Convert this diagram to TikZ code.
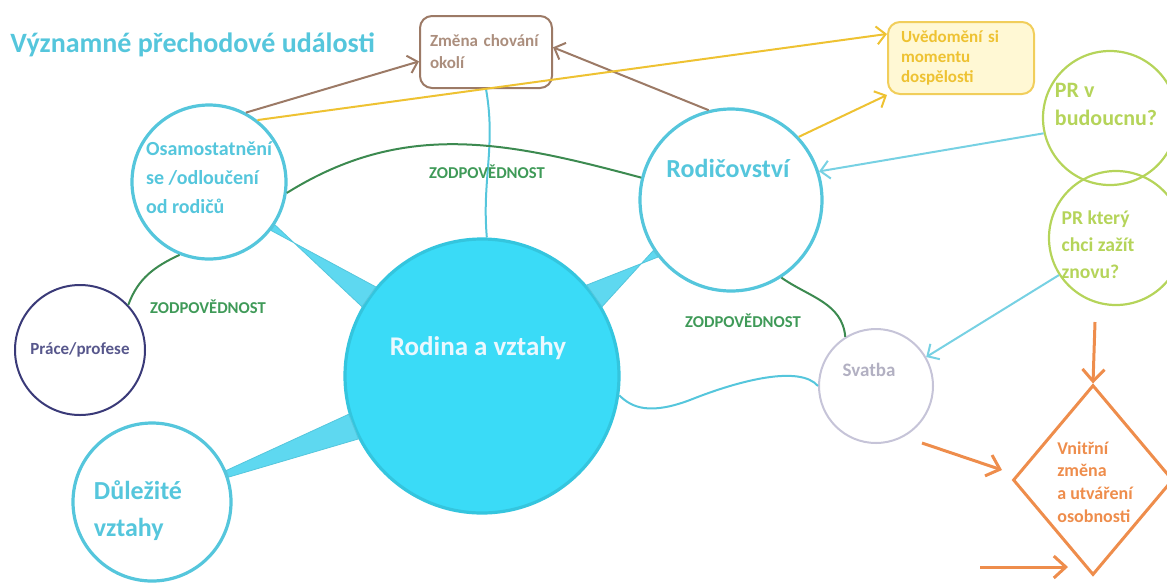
\documentclass[tikz,border=0pt]{standalone}
\usepackage{fontspec}
\setmainfont{Carlito}
\usetikzlibrary{arrows.meta, shapes.geometric, positioning}

\definecolor{tyrkys}{HTML}{55C6DC}
\definecolor{plna}{HTML}{3ADBF7}
\definecolor{klin}{HTML}{5ED8F0}
\definecolor{hneda}{HTML}{9C7A66}
\definecolor{zluta}{HTML}{EEC232}
\definecolor{zlutapole}{HTML}{FFF8D4}
\definecolor{zelena}{HTML}{3C8A50}
\definecolor{zelenytext}{HTML}{3F9A58}
\definecolor{limet}{HTML}{B5D45A}
\definecolor{modra}{HTML}{3A3A78}
\definecolor{seda}{HTML}{C6C4D8}
\definecolor{oranz}{HTML}{EE8D4C}

\tikzset{
  udalost/.style={circle, draw=tyrkys, line width=1.6pt, inner sep=0pt},
  popis/.style={font=\bfseries, align=left, inner sep=0pt, text=tyrkys},
  pr/.style={circle, draw=limet, line width=1.1pt, inner sep=0pt},
  zodp/.style={font=\bfseries\fontsize{8.3}{10}\selectfont, text=zelenytext, inner sep=0pt},
  sipka/.style={->, >={Straight Barb[length=4.5pt, width=9pt]}, line width=1pt},
}

\begin{document}
\begin{tikzpicture}[x=0.5pt, y=-0.5pt]
    \useasboundingbox (0,0) rectangle (1167,585);

    \node[popis, anchor=west, font=\bfseries\fontsize{14}{16}\selectfont] (nadpis) at (10,45) {Významné přechodové události};

    % krabicky nahore
    \node[draw=hneda, line width=1pt, rounded corners=6pt, minimum width=66pt, minimum height=36pt,
          text=hneda!85, font=\bfseries\fontsize{8.5}{11}\selectfont, align=left, text width=56pt] (zmena) at (486,52) {Změna chování\\okolí};
    \node[draw=zluta!80, fill=zlutapole, line width=1pt, rounded corners=6pt, minimum width=73pt, minimum height=36pt,
          text=zluta, font=\bfseries\fontsize{8.5}{10}\selectfont, align=left, text width=60pt] (uvedomeni) at (961,58) {Uvědomění si\\momentu\\dospělosti};

    % kruhy
    \node[udalost, minimum size=137pt, fill=plna, draw=plna!90!black] (rodina) at (482,376) {};
    \node[popis, text=white!92!cyan, font=\bfseries\fontsize{13.5}{15}\selectfont] at (478,348) {Rodina a vztahy};

    \node[udalost, minimum size=77pt] (osamost) at (209,182) {};
    \node[popis, font=\bfseries\fontsize{10}{14.5}\selectfont] at (209,178) {Osamostatnění\\se /odloučení\\od rodičů};

    \node[udalost, minimum size=91pt] (rodicovstvi) at (731,200) {};
    \node[popis, font=\bfseries\fontsize{13}{15}\selectfont] at (728,168) {Rodičovství};

    \node[udalost, minimum size=79pt] (dulezite) at (152,502) {};
    \node[popis, font=\bfseries\fontsize{13}{18.5}\selectfont] at (138,511) {Důležité\\vztahy};

    \node[circle, draw=modra, line width=1pt, minimum size=65pt, inner sep=0pt,
          text=modra!85, font=\bfseries\fontsize{8.5}{10}\selectfont] (prace) at (80,350) {Práce/profese};

    \node[circle, draw=seda, line width=1pt, minimum size=57pt, inner sep=0pt] (svatba) at (876,386) {};
    \node[popis, text=seda!90!black, font=\bfseries\fontsize{9.5}{11}\selectfont] at (869,370) {Svatba};

    \node[pr, minimum size=67pt] (budoucnu) at (1110,118) {};
    \node[popis, text=limet, font=\bfseries\fontsize{11}{14}\selectfont] at (1106,104) {PR v\\budoucnu?};

    \node[pr, minimum size=67pt] (znovu) at (1116,238) {};
    \node[popis, text=limet, font=\bfseries\fontsize{9.8}{13.5}\selectfont] at (1098,245) {PR který\\chci zažít\\znovu?};

    \node[diamond, draw=oranz, line width=1.5pt, minimum width=80pt, minimum height=95pt, inner sep=0pt] (vnitrni) at (1093,480) {};
    \node[popis, text=oranz, font=\bfseries\fontsize{9}{11.4}\selectfont] at (1095,482) {Vnitřní\\změna\\a utváření\\osobnosti};

    % kliny k velkemu kruhu
    \fill[klin, draw=tyrkys, line width=0.4pt] (osamost.-33) -- (rodina.150) -- (rodina.140) -- (osamost.-38) -- cycle;
    \fill[klin, draw=tyrkys, line width=0.4pt] (rodicovstvi.-142) -- (rodina.41) -- (rodina.30) -- (rodicovstvi.-147) -- cycle;
    \fill[klin, draw=tyrkys, line width=0.4pt] (dulezite.18) -- (rodina.207) -- (rodina.196) -- (dulezite.23) -- cycle;

    % spojnice
    \draw[tyrkys, line width=1pt] (rodina.88) to[out=95, in=-80] (zmena.south);
    \draw[tyrkys, line width=1pt] (svatba.west) .. controls (800,365) and (740,380) .. (690,400)
        .. controls (650,415) and (632,408) .. (rodina.-8);

    \draw[sipka, hneda] (osamost.62) -- (zmena.188);
    \draw[sipka, hneda] (rodicovstvi.104) -- (zmena.4);
    \draw[sipka, zluta] (osamost.52) -- (uvedomeni.162);
    \draw[sipka, zluta] (rodicovstvi.43) -- (uvedomeni.south west);

    \draw[sipka, tyrkys!80] (budoucnu.193) -- (rodicovstvi.18);
    \draw[sipka, tyrkys!80] (znovu.213) -- (svatba.30);

    \draw[zelena, line width=1pt] (osamost.-8) to[out=32, in=165] (rodicovstvi.166);
    \draw[zelena, line width=1pt] (osamost.-112) to[out=205, in=70] (prace.43);
    \draw[zelena, line width=1pt] (rodicovstvi.-57) to[out=-35, in=95] (svatba.122);

    \node[zodp] (zodp1) at (487,172) {ZODPOVĚDNOST};
    \node[zodp] (zodp2) at (208,307) {ZODPOVĚDNOST};
    \node[zodp] (zodp3) at (743,321) {ZODPOVĚDNOST};

    % oranzove sipky k diamantu
    \coordinate (shora) at (1095,322);
    \coordinate (zleva) at (922,443);
    \coordinate (zdola) at (980,567);
    \draw[sipka, oranz, line width=1.5pt, >={Straight Barb[length=6pt, width=11pt]}] (shora) -- (vnitrni.north);
    \draw[sipka, oranz, line width=1.5pt, >={Straight Barb[length=6pt, width=11pt]}] (zleva) -- (1002,470);
    \draw[sipka, oranz, line width=1.5pt, >={Straight Barb[length=6pt, width=11pt]}] (zdola) -- (1068,567);
\end{tikzpicture}
\end{document}
